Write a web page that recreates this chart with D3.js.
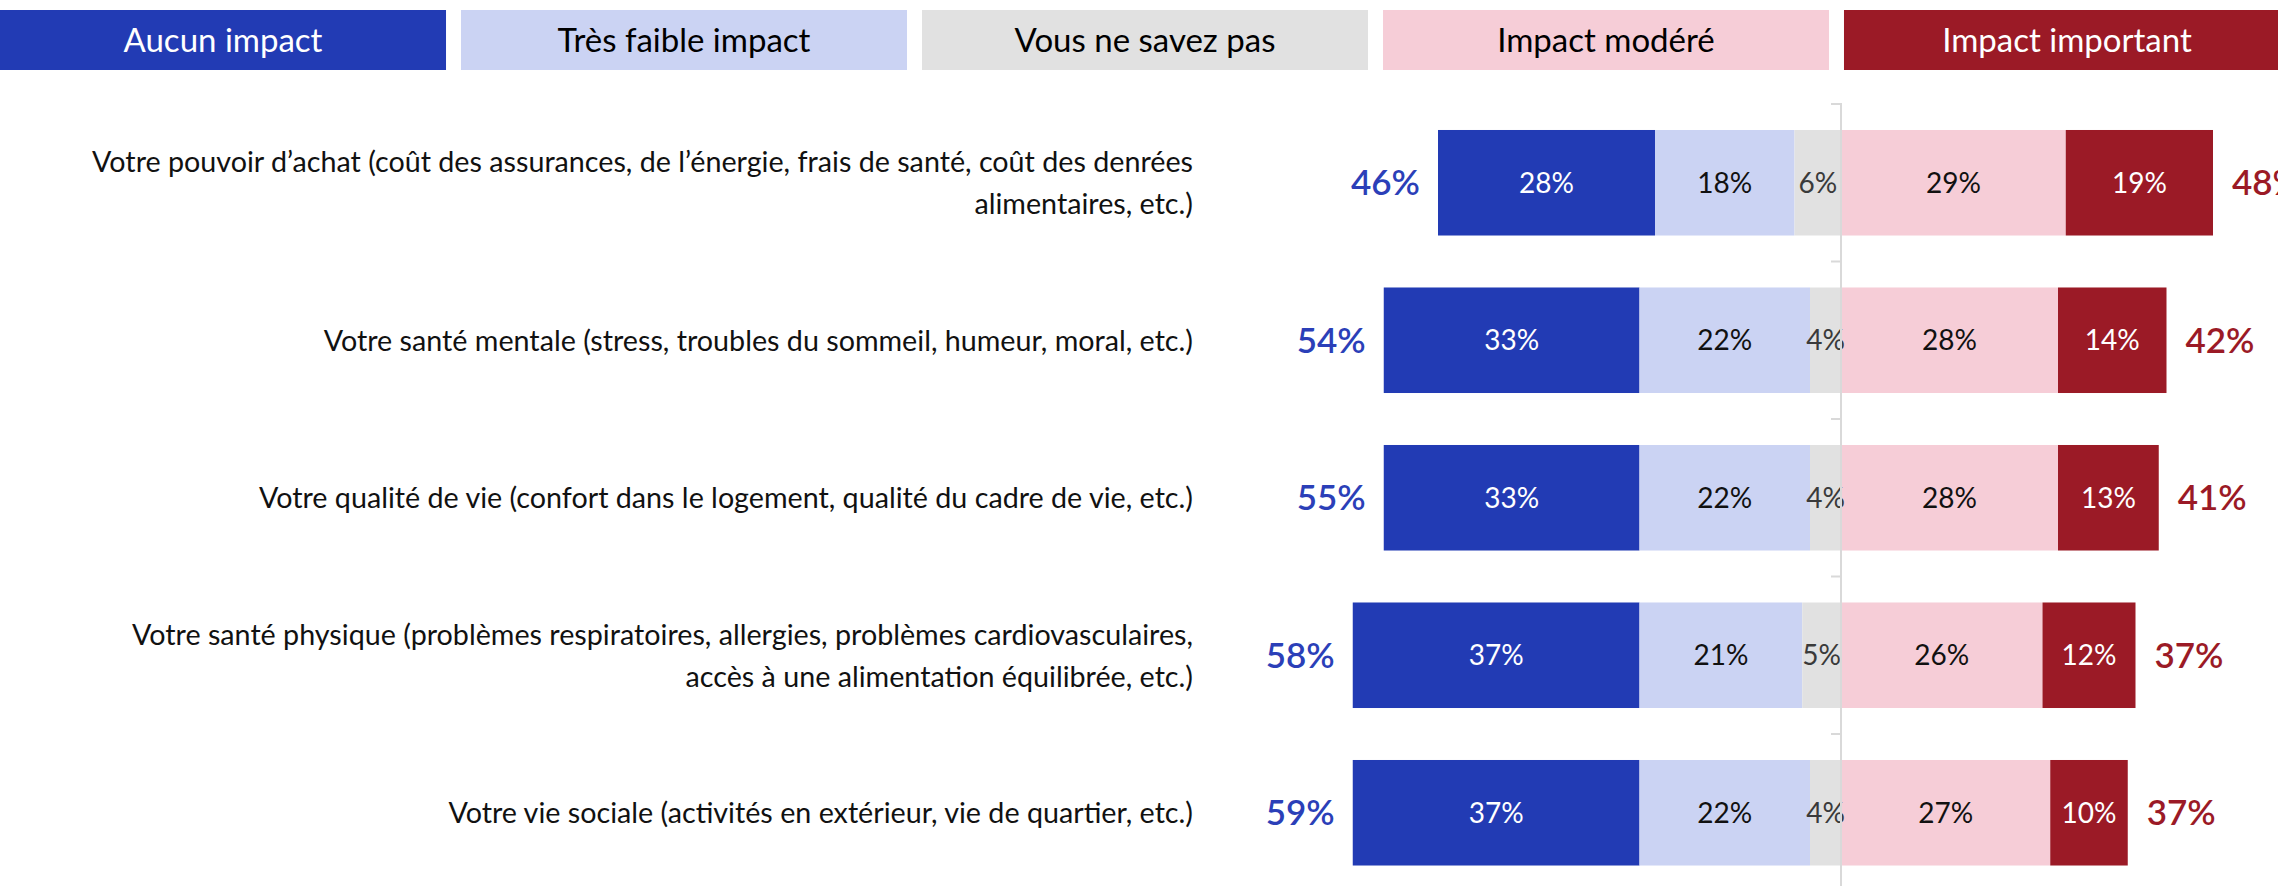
<!DOCTYPE html>
<html>
<head>
<meta charset="utf-8">
<script src="https://cdn.jsdelivr.net/npm/d3@7"></script>
<style>
  html, body { margin: 0; padding: 0; background: #fff; }
  svg { display: block; font-family: "Lato", "Open Sans", sans-serif; }
</style>
</head>
<body>
<svg id="chart" width="2278" height="886"></svg>
<script>
// data
const legendLabels = ["Aucun impact", "Très faible impact", "Vous ne savez pas", "Impact modéré", "Impact important"];

const questions = [
    ["Votre pouvoir d’achat (coût des assurances, de l’énergie, frais de santé, coût des denrées", "alimentaires, etc.)"],
    ["Votre santé mentale (stress, troubles du sommeil, humeur, moral, etc.)"],
    ["Votre qualité de vie (confort dans le logement, qualité du cadre de vie, etc.)"],
    ["Votre santé physique (problèmes respiratoires, allergies, problèmes cardiovasculaires,", "accès à une alimentation équilibrée, etc.)"],
    ["Votre vie sociale (activités en extérieur, vie de quartier, etc.)"]
];

const aucun = [28, 33, 33, 37, 37];
const tresFaible = [18, 22, 22, 21, 22];
const nsp = [6, 4, 4, 5, 4];
const modere = [29, 28, 28, 26, 27];
const important = [19, 14, 13, 12, 10];

const totalPasImpact = [46, 54, 55, 58, 59];
const totalImpact = [48, 42, 41, 37, 37];

(function () {
    const COLORS = ["#223bb4", "#cbd3f3", "#e1e1e1", "#f6cdd7", "#9b1a26"];
    const TEXT = ["#ffffff", "#111111", "#3a3a3a", "#111111", "#ffffff"];
    const LEGEND_TEXT = ["#ffffff", "#000000", "#000000", "#000000", "#ffffff"];

    const svg = d3.select("#chart");

    // legend across the top
    const lx = d3.scaleBand().domain(legendLabels).range([0, 2290]).paddingInner(0.0325);
    const legend = svg.append("g").selectAll("g")
        .data(legendLabels)
        .enter().append("g")
        .attr("transform", d => `translate(${lx(d)},10)`);
    legend.append("rect")
        .attr("width", lx.bandwidth())
        .attr("height", 60)
        .attr("fill", (d, i) => COLORS[i]);
    legend.append("text")
        .attr("x", lx.bandwidth() / 2)
        .attr("y", 30)
        .attr("dy", "0.36em")
        .attr("text-anchor", "middle")
        .attr("font-size", 33)
        .attr("fill", (d, i) => LEGEND_TEXT[i])
        .text(d => d);

    // scales
    const ids = questions.map((q, i) => i);
    const y = d3.scaleBand().domain(ids).range([104, 891.5]).paddingInner(0.33).paddingOuter(0.165);
    const x = d3.scaleLinear().domain([-100, 100]).range([1841 - 775, 1841 + 775]);

    // segments: negative side ends at 0 with the "ne savez pas" share
    const rows = ids.map(i => {
        const left = aucun[i] + tresFaible[i] + nsp[i];
        const vals = [aucun[i], tresFaible[i], nsp[i], modere[i], important[i]];
        let start = -left;
        const segs = vals.map((v, k) => {
            const s = { k, v, x0: start, x1: start + v };
            start += v;
            return s;
        });
        return { i, segs };
    });

    const rowG = svg.append("g").selectAll("g")
        .data(rows)
        .enter().append("g")
        .attr("transform", d => `translate(0,${y(d.i)})`);

    rowG.selectAll("rect")
        .data(d => d.segs)
        .enter().append("rect")
        .attr("x", d => x(d.x0))
        .attr("width", d => x(d.x1) - x(d.x0))
        .attr("height", y.bandwidth())
        .attr("fill", d => COLORS[d.k]);

    // axis line with ticks between categories
    const step = y.step();
    const bounds = d3.range(ids.length + 1).map(j => y.range()[0] + j * step);
    const axis = svg.append("g").attr("stroke", "#d9d9d9").attr("stroke-width", 2);
    axis.append("line")
        .attr("x1", x(0)).attr("x2", x(0))
        .attr("y1", bounds[0] - 1).attr("y2", 886);
    axis.selectAll("line.tick")
        .data(bounds)
        .enter().append("line")
        .attr("class", "tick")
        .attr("x1", x(0) - 10).attr("x2", x(0))
        .attr("y1", d => d).attr("y2", d => d);

    rowG.selectAll("text.seg")
        .data(d => d.segs)
        .enter().append("text")
        .attr("class", "seg")
        .attr("x", d => (x(d.x0) + x(d.x1)) / 2)
        .attr("y", y.bandwidth() / 2)
        .attr("dy", "0.36em")
        .attr("text-anchor", "middle")
        .attr("font-size", 28)
        .attr("fill", d => TEXT[d.k])
        .text(d => d.v + "%");

    // totals
    rowG.append("text")
        .attr("x", d => x(d.segs[0].x0) - 18)
        .attr("y", y.bandwidth() / 2)
        .attr("dy", "0.36em")
        .attr("text-anchor", "end")
        .attr("font-size", 35)
        .attr("font-weight", 600)
        .attr("fill", "#2b3fb8")
        .text(d => totalPasImpact[d.i] + "%");

    rowG.append("text")
        .attr("x", d => x(d.segs[4].x1) + 19)
        .attr("y", y.bandwidth() / 2)
        .attr("dy", "0.36em")
        .attr("font-size", 35)
        .attr("font-weight", 600)
        .attr("fill", "#9b1a26")
        .text(d => totalImpact[d.i] + "%");

    // question labels
    const lab = rowG.append("text")
        .attr("text-anchor", "end")
        .attr("font-size", 28.7)
        .attr("fill", "#111");
    lab.selectAll("tspan")
        .data(d => questions[d.i].map((t, j, arr) => ({ t, off: (j - (arr.length - 1) / 2) * 42 })))
        .enter().append("tspan")
        .attr("x", 1193)
        .attr("y", d => y.bandwidth() / 2 + d.off)
        .attr("dy", "0.36em")
        .text(d => d.t);
})();
</script>
</body>
</html>
